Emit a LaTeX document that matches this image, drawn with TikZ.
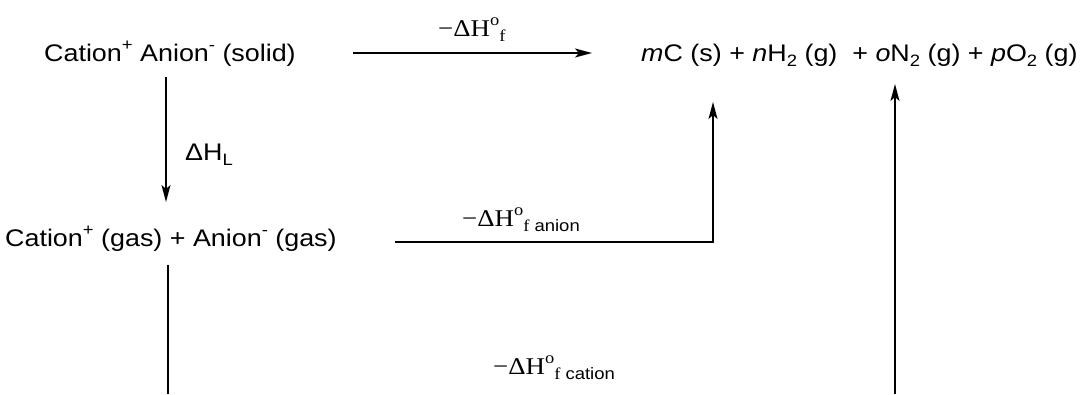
\documentclass[tikz,border=0pt]{standalone}
\usepackage{fontspec}
\usepackage{graphicx}
\setmainfont{Liberation Sans}
\newfontfamily\tms{Liberation Serif}
\usetikzlibrary{arrows.meta}
\newcommand\hs[1]{\scalebox{1.12}[1]{#1}}
\newcommand\myup[1]{\raisebox{0.42em}{\fontsize{16.5}{16.5}\selectfont #1}}
\newcommand\mydn[1]{\raisebox{-0.22em}{\fontsize{16.5}{16.5}\selectfont #1}}
\tikzset{
  txt/.style={anchor=base west, inner sep=0pt, font=\fontsize{24}{28}\selectfont},
  conn/.style={line width=1.7pt},
  arr/.style={conn, -{Stealth[length=17pt,width=9pt,inset=4pt]}},
}
\begin{document}
\begin{tikzpicture}[x=1pt,y=-1pt]
\useasboundingbox[fill=white] (0,0) rectangle (1080,394);
% species
\node[txt] (solid) at (44,61) {\hs{Cation\myup{+} Anion\myup{-} (solid)}};
\node[txt] (elem) at (641,61) {\hs{\textit{m}C (s) + \textit{n}H\mydn{2} (g)\ \ + \textit{o}N\mydn{2} (g) + \textit{p}O\mydn{2} (g)}};
\node[txt] (gas) at (5,246) {\hs{Cation\myup{+} (gas) + Anion\myup{-} (gas)}};
% labels
\node[txt] (lf) at (438,36) {\hs{{\tms −ΔH\myup{o}\mydn{f}}}};
\node[txt] (ll) at (185,160) {\hs{ΔH\mydn{L}}};
\node[txt] (la) at (462,226) {\hs{{\tms −ΔH\myup{o}}\mydn{{\tms f} anion}}};
\node[txt] (lc) at (493,374) {\hs{{\tms −ΔH\myup{o}}\mydn{{\tms f} cation}}};
% connector ends
\coordinate (a1) at (353,53);  \coordinate (a2) at (592,53);
\coordinate (d1) at (166,77);  \coordinate (d2) at (166,202);
\coordinate (b1) at (395,242); \coordinate (b2) at (713,242); \coordinate (b3) at (713,102);
\coordinate (c1) at (168,265); \coordinate (c2) at (168,394);
\coordinate (r1) at (895,394); \coordinate (r2) at (895,84);
% connectors
\draw[arr] (a1) -- (a2);
\draw[arr] (d1) -- (d2);
\draw[arr] (b1) -- (b2) -- (b3);
\draw[conn] (c1) -- (c2);
\draw[arr] (r1) -- (r2);
\end{tikzpicture}
\end{document}
